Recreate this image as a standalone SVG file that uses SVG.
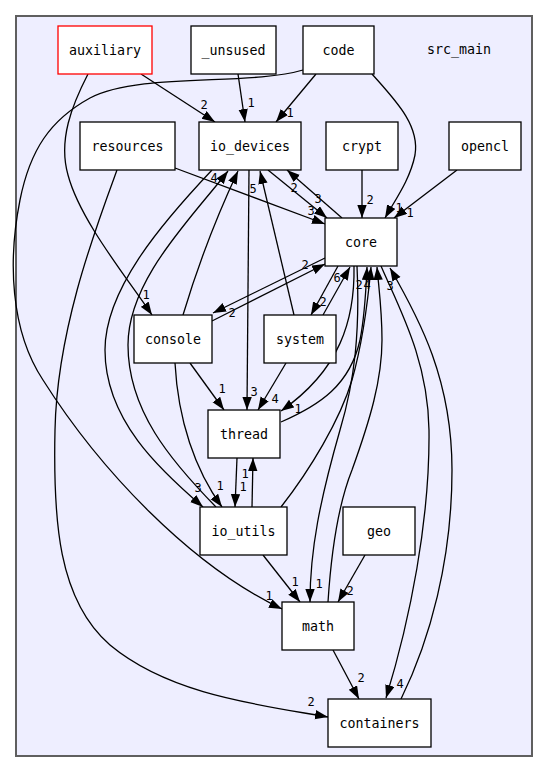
<svg xmlns="http://www.w3.org/2000/svg" width="548" height="773" viewBox="0 0 548 773">
<style>
.n rect{fill:#fff;stroke:#000;stroke-width:1.3}
.n text,.t{font-family:"DejaVu Sans Mono","Liberation Mono",monospace;font-size:13.3px;fill:#000;text-anchor:middle}
.e path{fill:none;stroke:#000;stroke-width:1.3;marker-end:url(#ah)}
.l text{font-family:"DejaVu Sans Mono","Liberation Mono",monospace;font-size:12px;fill:#000;text-anchor:middle}
</style>
<defs>
<marker id="ah" markerUnits="userSpaceOnUse" markerWidth="14" markerHeight="10" refX="13" refY="4.7" orient="auto">
<path d="M0,0 L13,4.7 L0,9.4 z" fill="#000"/>
</marker>
</defs>
<rect x="0" y="0" width="548" height="773" fill="#fff"/>
<g id="cluster_src_main">
<rect x="16" y="16" width="516" height="740" fill="#eeeeff" stroke="#5f5f5f" stroke-width="2"/>
<text class="t" x="459" y="54">src_main</text>
</g>
<g id="edges" class="e">
<path d="M141,74 L215,122"/>
<path d="M88,74 C72,105 58,140 68,175 C80,220 125,275 152,315"/>
<path d="M238,74 L245,122"/>
<path d="M316,74 L276,122"/>
<path d="M303,70 C250,86 140,72 90,98 C50,120 30,150 20,200 C8,260 10,330 43,380 C100,470 190,565 282,609"/>
<path d="M175,168 L325,224"/>
<path d="M117,170 C95,230 57,330 55,430 C53,520 58,600 110,645 C170,695 260,705 328,717"/>
<path d="M268,170 L327,218"/>
<path d="M342,218 L287,170"/>
<path d="M362,170 L362,218"/>
<path d="M457,170 L394,218"/>
<path d="M372,74 C395,100 420,125 415,155 C410,180 395,200 385,218"/>
<path d="M212,170 C160,225 105,290 105,350 C105,420 160,470 203,507"/>
<path d="M216,507 C170,460 128,410 128,345 C128,280 190,220 228,171"/>
<path d="M183,315 C195,275 215,220 238,171"/>
<path d="M294,315 L260,171"/>
<path d="M249,170 L247,410"/>
<path d="M325,258 L213,313"/>
<path d="M212,321 L325,264"/>
<path d="M338,266 L311,315"/>
<path d="M323,315 L350,267"/>
<path d="M354,266 C355,320 340,370 281,411"/>
<path d="M281,422 C320,405 350,385 360,340 C365,315 366,290 367,267"/>
<path d="M281,507 C310,470 340,420 352,380 C362,345 368,300 371,267"/>
<path d="M357,266 C360,330 355,380 340,430 C320,500 310,550 310,602"/>
<path d="M328,602 C332,540 340,500 352,470 C370,420 382,380 382,340 C382,310 379,290 377,267"/>
<path d="M381,266 C400,310 428,360 429,430 C430,520 410,620 386,698"/>
<path d="M401,699 C430,640 452,560 452,470 C452,380 420,320 390,268"/>
<path d="M190,363 L224,410"/>
<path d="M286,363 L258,410"/>
<path d="M175,363 C178,420 195,470 222,507"/>
<path d="M237,458 L235,507"/>
<path d="M252,507 L253,458"/>
<path d="M263,555 L300,602"/>
<path d="M365,555 L338,602"/>
<path d="M333,650 L359,699"/>
</g>
<g id="edge-labels" class="l">
<text x="204" y="109">2</text>
<text x="251" y="107">1</text>
<text x="290" y="117">1</text>
<text x="146" y="299">1</text>
<text x="232" y="317">2</text>
<text x="214" y="182">4</text>
<text x="253" y="193">5</text>
<text x="294" y="192">2</text>
<text x="318" y="203">3</text>
<text x="311" y="215">3</text>
<text x="370" y="204">2</text>
<text x="399" y="212">1</text>
<text x="410" y="217">1</text>
<text x="305" y="269">2</text>
<text x="337" y="282">6</text>
<text x="323" y="306">2</text>
<text x="359" y="289">2</text>
<text x="367" y="289">4</text>
<text x="390" y="290">3</text>
<text x="222" y="393">1</text>
<text x="254" y="396">3</text>
<text x="275" y="403">4</text>
<text x="298" y="413">1</text>
<text x="198" y="492">3</text>
<text x="220" y="490">1</text>
<text x="245" y="478">1</text>
<text x="243" y="491">1</text>
<text x="269" y="600">1</text>
<text x="295" y="586">1</text>
<text x="319" y="588">1</text>
<text x="350" y="595">2</text>
<text x="361" y="682">2</text>
<text x="400" y="688">4</text>
<text x="311" y="706">2</text>
</g>
<g id="node_auxiliary" class="n"><rect x="58" y="26" width="94" height="48" style="stroke:#ff0000"/><text x="105" y="55">auxiliary</text></g>
<g id="node_unsused" class="n"><rect x="191" y="26" width="85" height="48"/><text x="233.5" y="55">_unsused</text></g>
<g id="node_code" class="n"><rect x="303" y="26" width="71" height="48"/><text x="338.5" y="55">code</text></g>
<g id="node_resources" class="n"><rect x="80" y="122" width="95" height="48"/><text x="127.5" y="151">resources</text></g>
<g id="node_io_devices" class="n"><rect x="199" y="122" width="102" height="48"/><text x="250" y="151">io_devices</text></g>
<g id="node_crypt" class="n"><rect x="326" y="122" width="72" height="48"/><text x="362" y="151">crypt</text></g>
<g id="node_opencl" class="n"><rect x="449" y="122" width="72" height="48"/><text x="485" y="151">opencl</text></g>
<g id="node_core" class="n"><rect x="325" y="218" width="72" height="48"/><text x="361" y="247">core</text></g>
<g id="node_console" class="n"><rect x="134" y="315" width="78" height="48"/><text x="173" y="344">console</text></g>
<g id="node_system" class="n"><rect x="264" y="315" width="72" height="48"/><text x="300" y="344">system</text></g>
<g id="node_thread" class="n"><rect x="208" y="410" width="72" height="48"/><text x="244" y="439">thread</text></g>
<g id="node_io_utils" class="n"><rect x="200" y="507" width="87" height="48"/><text x="243.5" y="536">io_utils</text></g>
<g id="node_geo" class="n"><rect x="343" y="507" width="72" height="48"/><text x="379" y="536">geo</text></g>
<g id="node_math" class="n"><rect x="282" y="602" width="72" height="48"/><text x="318" y="631">math</text></g>
<g id="node_containers" class="n"><rect x="328" y="699" width="103" height="48"/><text x="379.5" y="728">containers</text></g>
</svg>
